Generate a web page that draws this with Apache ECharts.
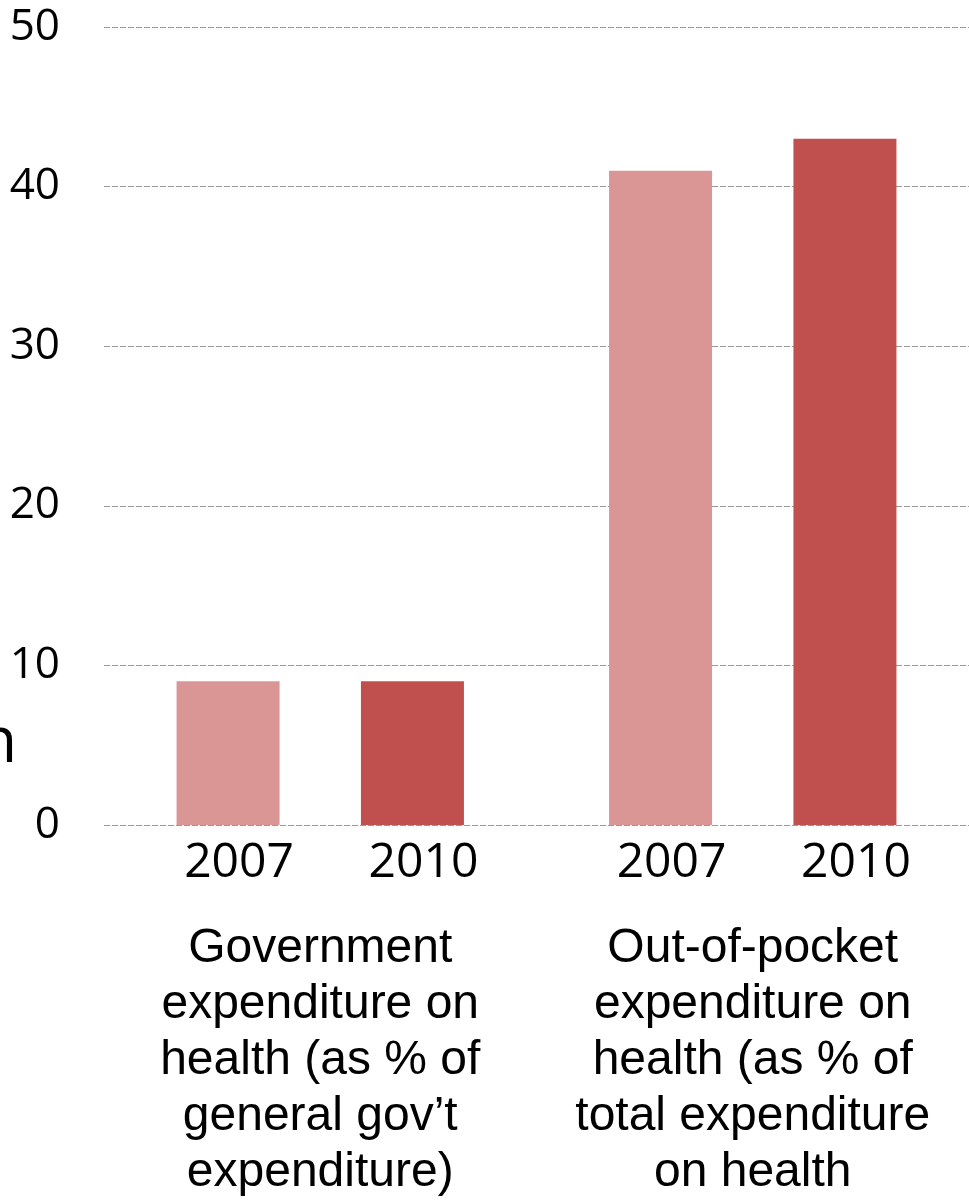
<!DOCTYPE html>
<html>
<head>
<meta charset="utf-8">
<script src="https://cdn.jsdelivr.net/npm/echarts@6/dist/echarts.min.js"></script>
<style>
html,body{margin:0;padding:0;background:#fff;}
#chart{width:969px;height:1201px;}
</style>
</head>
<body>
<div id="chart"></div>
<script>
const groups = [
  "Government\nexpenditure on\nhealth (as % of\ngeneral gov\u2019t\nexpenditure)",
  "Out-of-pocket\nexpenditure on\nhealth (as % of\ntotal expenditure\non health"
];
const years = ["2007", "2010"];
const values2007 = [9, 41];
const values2010 = [9, 43];
const yTicks = [0, 10, 20, 30, 40, 50];

const chart = echarts.init(document.getElementById('chart'), null, {renderer: 'canvas'});
const yearLabel = {
  show: true,
  position: 'bottom',
  distance: 14,
  offset: [11, 0],
  formatter: '{a}',
  fontFamily: 'Open Sans',
  fontSize: 48,
  color: '#000'
};
chart.setOption({
  animation: false,
  backgroundColor: '#fff',
  grid: {left: 104, width: 871, top: 27, bottom: 370, containLabel: false},
  xAxis: {
    type: 'category',
    data: groups,
    axisLine: {show: false},
    axisTick: {show: false},
    axisLabel: {
      interval: 0,
      margin: 96,
      fontFamily: 'Liberation Sans, Arial',
      fontSize: 48,
      lineHeight: 56,
      color: '#000',
      verticalAlign: 'top'
    }
  },
  yAxis: {
    type: 'value',
    min: yTicks[0],
    max: yTicks[yTicks.length - 1],
    interval: 10,
    axisLine: {show: false},
    axisTick: {show: false},
    axisLabel: {
      margin: 44,
      fontFamily: 'Open Sans',
      fontSize: 44,
      color: '#000'
    },
    splitLine: {
      lineStyle: {color: '#999999', width: 1.2, type: [6, 2]}
    }
  },
  graphic: [{
    type: 'text',
    left: -22,
    top: 712,
    style: {text: 'h', font: '64px "Open Sans"', fill: '#000'}
  }],
  series: [
    {
      name: years[0], type: 'bar', data: values2007,
      barWidth: 103, barGap: '79%',
      itemStyle: {color: '#D99694'},
      label: yearLabel
    },
    {
      name: years[1], type: 'bar', data: values2010,
      barWidth: 103, barGap: '79%',
      itemStyle: {color: '#C0504D'},
      label: yearLabel
    }
  ]
});
</script>
</body>
</html>
